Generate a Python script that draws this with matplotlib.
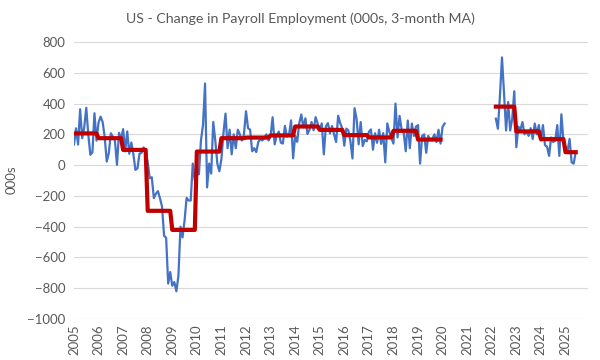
import numpy as np
import matplotlib
matplotlib.use('Agg')
import matplotlib.pyplot as plt

plt.rcParams['font.family'] = ['Lato', 'DejaVu Sans']

# monthly change in payroll employment (000s)
y2005 = [134, 239, 134, 363, 175, 245, 373, 196, 67, 84, 337, 159]
y2006 = [277, 315, 280, 182, 23, 77, 207, 184, 157, 2, 210, 171]
y2007 = [234, 89, 219, 74, 147, 71, -31, -21, 75, 80, 115, 97]
y2008 = [17, -85, -79, -215, -186, -169, -216, -270, -459, -473, -770, -695]
y2009 = [-784, -760, -820, -720, -400, -470, -360, -213, -230, -230, 10, -100]
y2010 = [-20, -60, 160, 260, 530, -145, 10, -55, 280, 160, 10, -40]
y2011 = [40, 210, 335, 110, 230, 70, 200, 110, 230, 200, 160, 200]
y2012 = [350, 240, 230, 90, 110, 85, 150, 170, 160, 180, 200, 160]
y2013 = [190, 311, 135, 192, 218, 146, 140, 255, 185, 196, 291, 44]
y2014 = [190, 151, 272, 329, 246, 304, 202, 230, 280, 227, 312, 269]
y2015 = [230, 271, 70, 251, 273, 206, 254, 200, 150, 321, 272, 239]
y2016 = [126, 237, 225, 153, 43, 370, 300, 135, 280, 124, 164, 155]
y2017 = [216, 232, 100, 207, 145, 230, 138, 208, 18, 271, 216, 175]
y2018 = [140, 400, 180, 320, 230, 210, 90, 290, 110, 270, 190, 250]
y2019 = [260, 10, 190, 200, 80, 190, 160, 170, 200, 150, 230, 140]
y2020 = [250, 270]                                         # Jan-Feb
y2022 = [302, 236, 450, 700, 465, 225, 410, 225, 302, 480]  # Mar-Dec
y2023 = [116, 250, 230, 280, 200, 220, 190, 240, 170, 270, 200, 260]
y2024 = [160, 260, 130, 120, 60, 180, 150, 160, 260, 60, 330, 160]
y2025 = [120, 90, 170, 18, 10, 84]                         # Jan-Jun

# annual averages (red steps)
avg_years = [2005, 2006, 2007, 2008, 2009, 2010, 2011, 2012, 2013, 2014,
             2015, 2016, 2017, 2018, 2019, 2022, 2023, 2024, 2025]
avg_vals = [206, 175, 99, -297, -421, 88, 175, 179, 193, 251,
            229, 195, 180, 223, 166, 380, 219, 169, 84]

pre = (y2005 + y2006 + y2007 + y2008 + y2009 + y2010 + y2011 + y2012 +
       y2013 + y2014 + y2015 + y2016 + y2017 + y2018 + y2019 + y2020)
post = y2022 + y2023 + y2024 + y2025

x_pre = 2005 + np.arange(len(pre)) / 12
x_post = 2022 + (2 + np.arange(len(post))) / 12

avg_map = dict(zip(avg_years, avg_vals))
x_red_pre = x_pre[:180]
red_pre = [avg_map[int(np.floor(x + 1e-6))] for x in x_red_pre]
red_post = [avg_map[int(np.floor(x + 1e-6))] for x in x_post]

fig = plt.figure(figsize=(6, 3.6), dpi=100)
ax = fig.add_axes([0.1233, 0.1139, 0.8567, 0.7694])

ax.plot(x_pre, pre, color='#4472C4', lw=1.6, solid_joinstyle='round')
ax.plot(x_post, post, color='#4472C4', lw=1.6, solid_joinstyle='round')
ax.plot(x_red_pre, red_pre, color='#C00000', lw=3.0, solid_joinstyle='round')
ax.plot(x_post, red_post, color='#C00000', lw=3.0, solid_joinstyle='round')

ax.set_xlim(2005, 2005 + 251 / 12)
ax.set_ylim(-1000, 800)
ax.set_yticks(range(-1000, 801, 200))
ax.set_xticks(range(2005, 2026))
ax.set_xticklabels([str(y) for y in range(2005, 2026)], rotation=90)
ax.grid(axis='y', color='#D9D9D9', lw=0.8)
ax.set_axisbelow(True)
for s in ax.spines.values():
    s.set_visible(False)
ax.tick_params(length=0, colors='#595959', labelsize=9.5)
ax.tick_params(axis='x', pad=4)
ax.tick_params(axis='y', pad=6)

fig.text(12 / 600, 0.5, '000s', rotation=90, ha='center', va='center',
         color='#595959', fontsize=9.5)
fig.suptitle('US - Change in Payroll Employment (000s, 3-month MA)',
             x=0.5, y=0.965, fontsize=10.2, color='#595959')

fig.savefig('out.png', dpi=100)
